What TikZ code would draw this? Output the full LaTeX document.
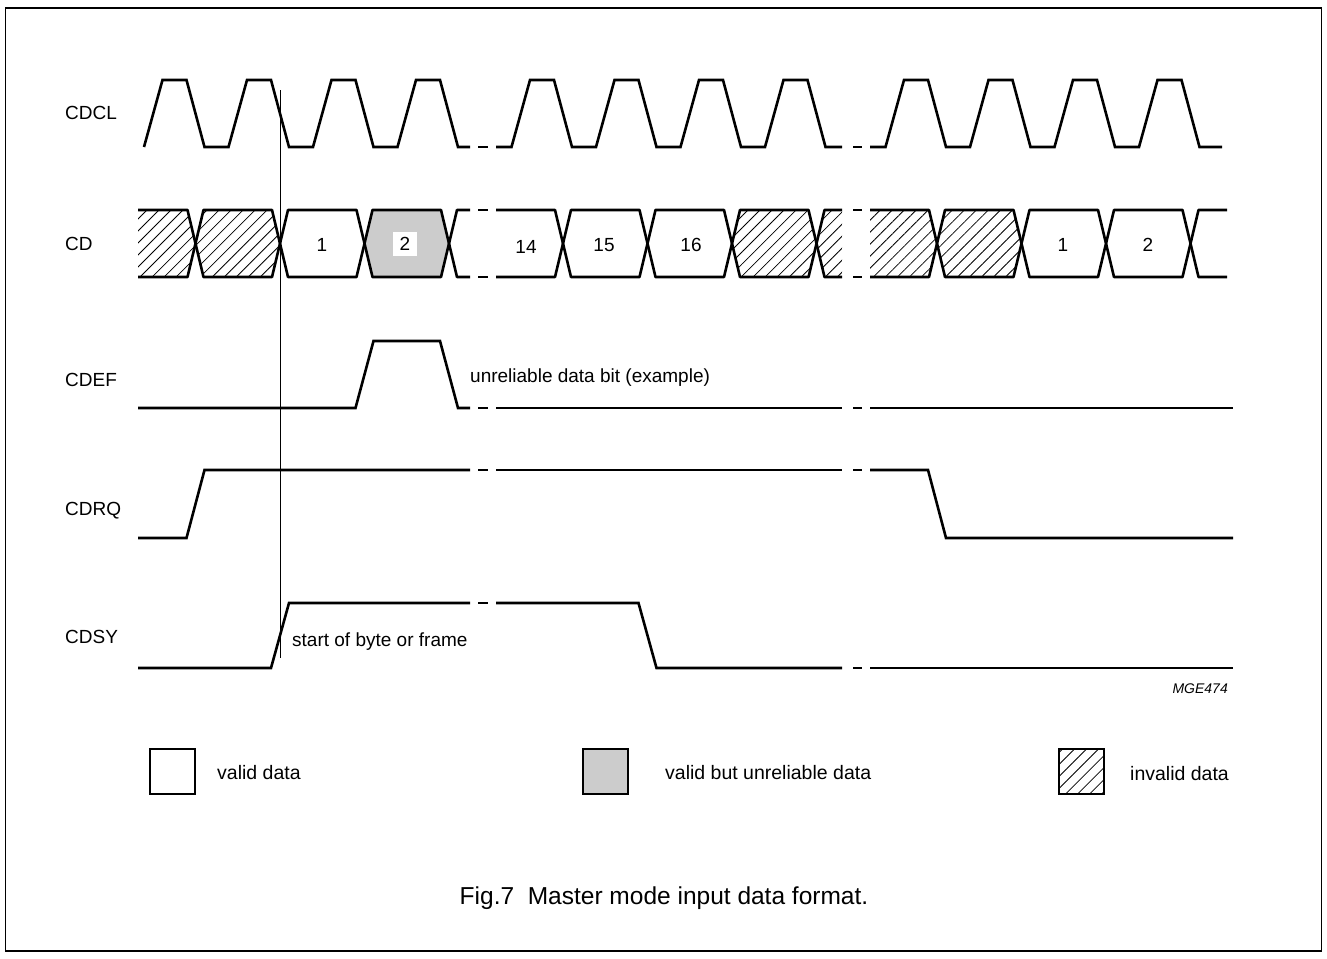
\documentclass[tikz,border=0pt]{standalone}
\usepackage{fontspec}
\setmainfont{Liberation Sans}
\usetikzlibrary{patterns.meta}
\definecolor{unrel}{HTML}{CCCCCC}
\tikzset{
  sig/.style={line width=2.6pt, line join=miter, line cap=butt},
  cellline/.style={line width=2.6pt, line join=round, line cap=butt},
  lbl/.style={font=\fontsize{19}{21}\selectfont, inner sep=0pt},
  leg/.style={font=\fontsize{19.5}{21}\selectfont, inner sep=0pt},
  hatch/.style={pattern={Lines[angle=45,distance=8.5pt,line width=0.8pt]}},
  legbox/.style={draw, line width=1.2pt},
  thin/.style={line width=0.9pt},
}
% CD bus cells: a = left crossing, b = right crossing
\newcommand{\wfCell}[3]{%
  \path[#3] (#1,243.5) -- (#1+8,210) -- (#2-8,210) -- (#2,243.5) -- (#2-8,277) -- (#1+8,277) -- cycle;
  \draw[cellline] (#1,243.5) -- (#1+8,210) -- (#2-8,210) -- (#2,243.5) -- (#2-8,277) -- (#1+8,277) -- cycle;}
\newcommand{\wfOpenL}[3]{%
  \path[#3] (#1,210) -- (#2-8,210) -- (#2,243.5) -- (#2-8,277) -- (#1,277) -- cycle;
  \draw[cellline] (#1,210) -- (#2-8,210) -- (#2,243.5) -- (#2-8,277) -- (#1,277);}
\newcommand{\wfOpenR}[3]{%
  \path[#3] (#1,243.5) -- (#1+8,210) -- (#2,210) -- (#2,277) -- (#1+8,277) -- cycle;
  \draw[cellline] (#2,210) -- (#1+8,210) -- (#1,243.5) -- (#1+8,277) -- (#2,277);}
\begin{document}
\begin{tikzpicture}[x=1pt,y=-1pt]
\useasboundingbox (0,0) rectangle (1327,958);
\draw[line width=1.2pt] (5.5,8) rectangle (1321.5,951);

% row labels
\node[lbl, anchor=base west] (nCDCL) at (65,119.5) {CDCL};
\node[lbl, anchor=base west] (nCD)   at (65,250)   {CD};
\node[lbl, anchor=base west] (nCDEF) at (65,386.5) {CDEF};
\node[lbl, anchor=base west] (nCDRQ) at (65,515.5) {CDRQ};
\node[lbl, anchor=base west] (nCDSY) at (65,643.5) {CDSY};

% CDCL
\draw[sig] (144,147) -- (162.5,80) -- (186.5,80) -- (204.5,147)
  \foreach \f in {280,364.5,449} { -- (\f-51.5,147) -- (\f-33,80) -- (\f-9,80) -- (\f+9,147) } -- (470,147);
\draw[sig] (496,147)
  \foreach \f in {563,647.5,732,816.5} { -- (\f-51.5,147) -- (\f-33,80) -- (\f-9,80) -- (\f+9,147) } -- (842,147);
\draw[sig] (870,147)
  \foreach \f in {937,1021.5,1106,1190.5} { -- (\f-51.5,147) -- (\f-33,80) -- (\f-9,80) -- (\f+9,147) } -- (1222,147);
\draw[sig] (478,147) -- (488,147) (853,147) -- (862,147);

% CD
\wfOpenL{138}{195.5}{hatch}
\wfCell{195.5}{280}{hatch}
\wfCell{280}{364.5}{}
\wfCell{364.5}{449}{fill=unrel}
\wfOpenR{449}{470}{}
\wfOpenL{496}{563}{}
\wfCell{563}{647.5}{}
\wfCell{647.5}{732}{}
\wfCell{732}{816.5}{hatch}
\wfOpenR{816.5}{842}{hatch}
\wfOpenL{870}{937}{hatch}
\wfCell{937}{1021.5}{hatch}
\wfCell{1021.5}{1106}{}
\wfCell{1106}{1190.5}{}
\wfOpenR{1190.5}{1227}{}
\draw[sig] (478,210) -- (488,210) (478,277) -- (488,277)
           (853,210) -- (862,210) (853,277) -- (862,277);
\node[lbl, anchor=base] (c1)  at (322,251) {1};
\node[lbl, fill=white, minimum size=24pt] (c2) at (405,244) {2};
\node[lbl, anchor=base] (c14) at (526,253) {14};
\node[lbl, anchor=base] (c15) at (604,251) {15};
\node[lbl, anchor=base] (c16) at (691,251) {16};
\node[lbl, anchor=base] (c1b) at (1063,251) {1};
\node[lbl, anchor=base] (c2b) at (1148,251) {2};

% CDEF
\draw[sig] (138,408) -- (355.5,408) -- (373.5,341) -- (440,341) -- (458,408) -- (470,408);
\draw[sig] (478,408) -- (488,408) (496,408) -- (842,408) (853,408) -- (862,408) (870,408) -- (1233,408);
\node[lbl, anchor=base west] (tUnrel) at (470,382.5) {unreliable data bit (example)};

% CDRQ
\draw[sig] (138,538) -- (186.5,538) -- (204.5,470) -- (470,470);
\draw[sig] (478,470) -- (488,470) (496,470) -- (842,470) (853,470) -- (862,470);
\draw[sig] (870,470) -- (928,470) -- (946,538) -- (1233,538);

% CDSY
\draw[sig] (138,668) -- (271,668) -- (289,603) -- (470,603);
\draw[sig] (478,603) -- (488,603);
\draw[sig] (496,603) -- (638.5,603) -- (656.5,668) -- (842,668);
\draw[sig] (853,668) -- (862,668) (870,668) -- (1233,668);
\node[lbl, anchor=base west] (tStart) at (292,646) {start of byte or frame};

% reference line
\coordinate (vTop) at (280,90);
\coordinate (vBot) at (280,658);
\draw[thin] (vTop) -- (vBot);

\node[font=\fontsize{14}{16}\selectfont\itshape, inner sep=0pt, anchor=base east] (tMGE) at (1228,693) {MGE474};

% legend
\draw[legbox] (150,749) rectangle (195,794);
\node[leg, anchor=base west] (lValid) at (217,779) {valid data};
\draw[legbox, fill=unrel] (583,749) rectangle (628,794);
\node[leg, anchor=base west] (lUnrel) at (665,779) {valid but unreliable data};
\draw[legbox, hatch] (1059,749) rectangle (1104,794);
\node[leg, anchor=base west] (lInvalid) at (1130,780) {invalid data};

% caption
\node[font=\fontsize{24.5}{27}\selectfont, inner sep=0pt, anchor=base] (cap) at (664,904) {Fig.7\ \ Master mode input data format.};
\end{tikzpicture}
\end{document}
